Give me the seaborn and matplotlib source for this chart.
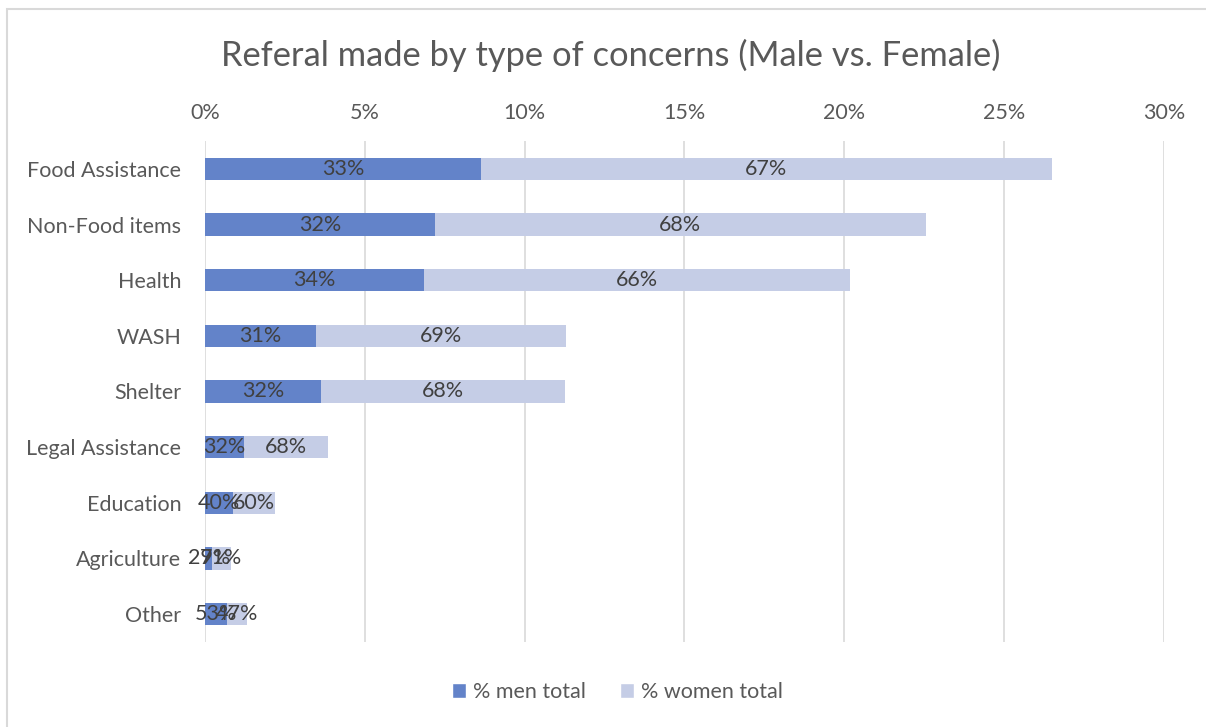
import matplotlib
matplotlib.use("Agg")
import matplotlib.pyplot as plt
from matplotlib.patches import Patch, Rectangle
from matplotlib.ticker import FuncFormatter, MultipleLocator
import seaborn as sns
import pandas as pd

# Referral shares by concern (percent of all referrals)
categories = ["Food Assistance", "Non-Food items", "Health", "WASH", "Shelter",
              "Legal Assistance", "Education", "Agriculture", "Other"]
men_total = [8.63, 7.19, 6.85, 3.48, 3.63, 1.23, 0.87, 0.23, 0.69]
women_total = [17.87, 15.36, 13.32, 7.81, 7.63, 2.61, 1.31, 0.57, 0.62]

MEN_COLOR = "#6383C9"
WOMEN_COLOR = "#C5CDE6"
TEXT = "#595959"
LABEL = "#404040"

sns.set_theme(style="white")
plt.rcParams["font.family"] = ["Lato", "DejaVu Sans"]

df = pd.DataFrame({"category": categories, "men": men_total, "women": women_total})
df["total"] = df["men"] + df["women"]

fig = plt.figure(figsize=(12.06, 7.27), dpi=100)
ax = fig.add_axes([0.170, 0.117, 0.795, 0.689])

sns.barplot(data=df, x="total", y="category", color=WOMEN_COLOR, width=0.4,
            saturation=1, linewidth=0, ax=ax, zorder=2)
sns.barplot(data=df, x="men", y="category", color=MEN_COLOR, width=0.4,
            saturation=1, linewidth=0, ax=ax, zorder=3)

# share labels centred in each segment
for i, row in df.iterrows():
    m_share = row["men"] / row["total"] * 100
    w_share = row["women"] / row["total"] * 100
    ax.text(row["men"] / 2, i, f"{m_share:.0f}%", ha="center", va="center",
            fontsize=15.5, color=LABEL, zorder=4)
    ax.text(row["men"] + row["women"] / 2, i, f"{w_share:.0f}%", ha="center",
            va="center", fontsize=15.5, color=LABEL, zorder=4)

ax.set_xlim(0, 30)
ax.set_ylim(8.5, -0.5)
ax.xaxis.set_major_locator(MultipleLocator(5))
ax.xaxis.set_major_formatter(FuncFormatter(lambda v, p: f"{v:.0f}%"))
ax.xaxis.tick_top()
ax.grid(axis="x", color="#D9D9D9", linewidth=1.2, zorder=0)
ax.set_axisbelow(True)
for s in ax.spines.values():
    s.set_visible(False)
ax.tick_params(axis="x", length=0, pad=13, labelsize=15.5, labelcolor=TEXT)
ax.tick_params(axis="y", length=0, pad=17, labelsize=15.5, labelcolor=TEXT)
ax.set_xlabel("")
ax.set_ylabel("")

fig.text(0.506, 0.924, "Referal made by type of concerns (Male vs. Female)",
         ha="center", va="center", fontsize=24.8, color=TEXT)

handles = [Patch(facecolor=MEN_COLOR, label="% men total"),
           Patch(facecolor=WOMEN_COLOR, label="% women total")]
fig.legend(handles=handles, loc="center", bbox_to_anchor=(0.512, 0.048), ncol=2,
           frameon=False, fontsize=15.5, labelcolor=TEXT, handlelength=0.65,
           handleheight=0.65, handletextpad=0.3, columnspacing=1.6)

# chart frame
fig.patches.append(Rectangle((7 / 1206, -0.1), 1.2, 1 - 9 / 727 + 0.1,
                             transform=fig.transFigure, fill=False,
                             edgecolor="#D9D9D9", linewidth=1.5))

fig.savefig("out.png", dpi=100)
